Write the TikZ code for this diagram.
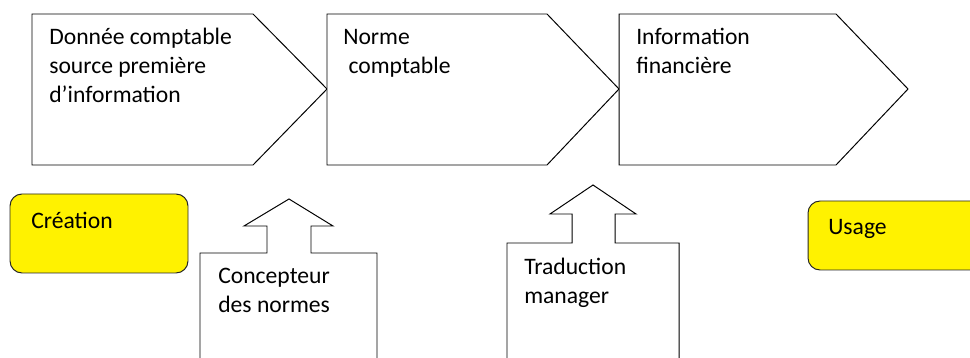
\documentclass[tikz,border=0pt]{standalone}
\usepackage{fontspec}
\setmainfont{Carlito}
\usetikzlibrary{positioning}

\begin{document}
\begin{tikzpicture}[
  chevron/.style={draw=black,fill=white,line width=0.7pt},
  upcall/.style={draw=black,fill=white,line width=0.7pt},
  colorbox/.style={draw=black!85,fill=yellow,line width=0.7pt,rounded corners=0.3cm},
  lbl/.style={font=\fontsize{16.8}{20.8}\selectfont,align=left,anchor=base west,inner sep=0pt}]
\useasboundingbox (0,0) rectangle (24.25,8.95);
\clip (0,0) rectangle (24.25,8.95);

% chaine du haut
\draw[chevron] (0.8,8.6) -- (6.325,8.6) -- (8.175,6.725) -- (6.325,4.825) -- (0.8,4.825) -- cycle;
\draw[chevron] (8.175,8.6) -- (13.675,8.6) -- (15.475,6.725) -- (13.675,4.825) -- (8.175,4.825) -- cycle;
\draw[chevron] (15.475,8.6) -- (20.9,8.6) -- (22.7,6.725) -- (20.9,4.825) -- (15.475,4.825) -- cycle;
% (base = ligne du bas)
\node[lbl] (donnee) at (1.225,6.375) {Donnée comptable\\source première\\d’information};
\node[lbl] (norme) at (8.575,7.1) {Norme\\\ comptable};
\node[lbl] (info) at (15.9,7.1) {Information\\financière};

% creation / usage
\draw[colorbox] (0.25,2.125) rectangle (4.7,4.1);
\node[lbl] (creation) at (0.775,3.225) {Création};
\draw[colorbox] (20.2,2.2) rectangle (24.75,3.925);
\node[lbl] (usage) at (20.7,3.075) {Usage};

% fleches vers le haut
\draw[upcall] (5.0,-0.5) -- (5.0,2.625) -- (6.675,2.625) -- (6.675,3.3) -- (6.1,3.3) -- (7.225,3.975)
  -- (8.325,3.3) -- (7.775,3.3) -- (7.775,2.625) -- (9.425,2.625) -- (9.425,-0.5) -- cycle;
\node[lbl] (concepteur) at (5.45,1.125) {Concepteur\\des normes};
\draw[upcall] (12.675,-0.5) -- (12.675,2.875) -- (14.3,2.875) -- (14.3,3.6) -- (13.75,3.6) -- (14.825,4.325)
  -- (15.9,3.6) -- (15.375,3.6) -- (15.375,2.875) -- (16.975,2.875) -- (16.975,-0.5) -- cycle;
\node[lbl] (traduction) at (13.1,1.35) {Traduction\\manager};

\end{tikzpicture}
\end{document}
